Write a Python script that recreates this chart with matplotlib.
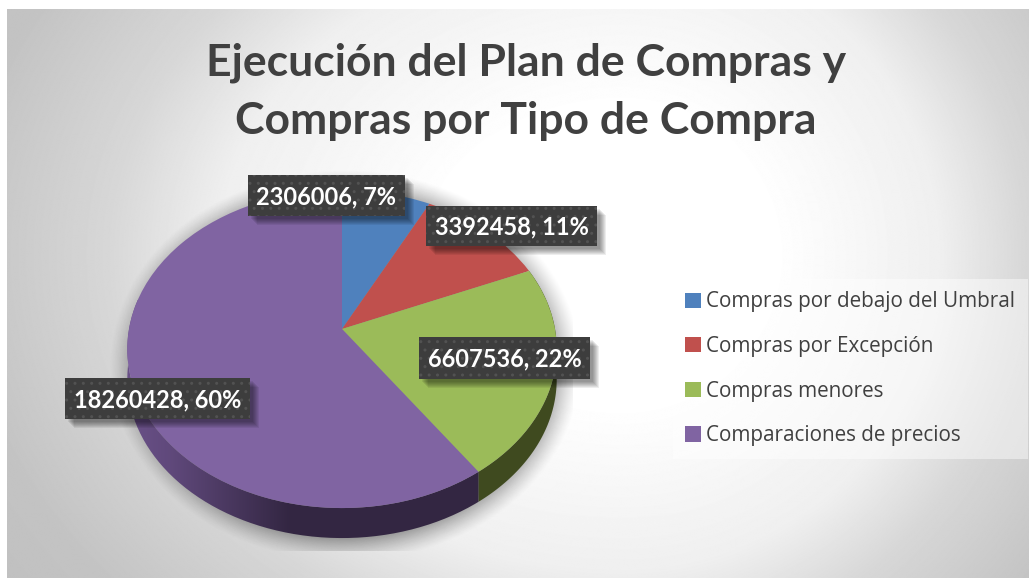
import numpy as np
import matplotlib
matplotlib.use("Agg")
import matplotlib.pyplot as plt
from matplotlib.patches import Rectangle, PathPatch
from matplotlib.path import Path
from matplotlib.transforms import Transform

categories = ["Compras por debajo del Umbral", "Compras por Excepción",
              "Compras menores", "Comparaciones de precios"]
values = [2306006, 3392458, 6607536, 18260428]
percents = [7, 11, 22, 60]
colors = ["#4f81bd", "#c0504d", "#9bbb59", "#8064a2"]
title = "Ejecución del Plan de Compras y\nCompras por Tipo de Compra"

W, H = 1029, 578
CX, CY = 342, 329
DEPTH = 30
K, A, C = 0.126, 213.0, 156.5


class Tilt(Transform):
    # unit circle -> slightly perspective disc, apex stays at CX,CY
    input_dims = output_dims = 2

    def transform_non_affine(self, xy):
        xy = np.asarray(xy)
        d = 1 + K * xy[:, 1]
        return np.column_stack([CX + A * xy[:, 0] / d, CY - C * xy[:, 1] / d])


fig = plt.figure(figsize=(W / 100, H / 100), dpi=100, facecolor="white")
ax = fig.add_axes([0, 0, 1, 1])

wedges, _ = ax.pie(values, colors=colors, startangle=90, counterclock=False, radius=1)
tilt = Tilt()
for w in wedges:
    w.set_transform(tilt + ax.transData)
    w.set_zorder(4)
    w.set_linewidth(0)
ax.set_aspect("auto")
ax.axis("off")

# background gradient
yy, xx = np.mgrid[0:H, 0:W]
rx = np.where(xx < 620, 640, 500)
r = np.hypot((xx - 620) / rx, (yy - 250) / 500)
bg = np.interp(r, [0.3, 0.64, 0.81, 1.05, 1.3], [255, 239, 215, 195, 190])
ax.imshow(bg, cmap="gray", vmin=0, vmax=255, extent=(7, W, H, 9), zorder=0, aspect="auto")

# soft shadow below the pie
s = np.hypot((xx - 345) / 236, (yy - 365) / 196)
sa = np.clip((1.0 - s) / 0.14, 0, 1) ** 1.3 * 0.42
sa[(yy > 550) | (xx > 572)] = 0
shadow = np.zeros((H, W, 4))
shadow[..., 3] = sa
ax.imshow(shadow, extent=(0, W, H, 0), zorder=1, aspect="auto")

# rim of the disc
fractions = np.cumsum(values) / np.sum(values)
a_start = 2 * np.pi * fractions[1]
a_green = 2 * np.pi * fractions[2]


def rim(a0, a1):
    t = np.linspace(a0, a1, 200)
    p = tilt.transform_non_affine(np.column_stack([np.sin(t), np.cos(t)]))
    q = p + [0, DEPTH]
    return np.vstack([p, q[::-1]])


green_rim = rim(a_start, a_green)
ax.fill(green_rim[:, 0], green_rim[:, 1], color="#3f4a1f", zorder=3, lw=0)
purple_rim = rim(a_green, 2 * np.pi)
clip = PathPatch(Path(np.vstack([purple_rim, purple_rim[:1]])), transform=ax.transData)
grad = np.interp(np.linspace(120, 480, 360), [120, 170, 290, 480], [0, 0.2, 1, 1])[None, :, None]
rim_rgb = (1 - grad) * np.array([0.42, 0.32, 0.54]) + grad * np.array([0.2, 0.15, 0.26])
im = ax.imshow(rim_rgb, extent=(120, 480, 560, 300), zorder=3, aspect="auto")
im.set_clip_path(clip)
ax.set_xlim(0, W)
ax.set_ylim(H, 0)

# data labels, boxes
boxes = [(248, 175, 157, 41), (426, 206, 171, 40), (419, 337, 171, 42), (65, 378, 185, 41)]
for (x, y, w, h), v, p in zip(boxes, values, percents):
    for i in range(7, 0, -1):
        ax.add_patch(Rectangle((x + 2 + i, y + 2 + i), w, h, fc="black", alpha=0.07, lw=0, zorder=5))
    ax.add_patch(Rectangle((x, y), w, h, fc="#3d3d3d", ec="#525252", hatch="..", lw=0, zorder=6))
    ax.text(x + w / 2, y + h / 2 + 1, f"{v}, {p}%", color="white", fontsize=17, fontweight="bold",
            family="Lato", ha="center", va="center", zorder=7)

ax.text(526, 92, title, color="#404040", fontsize=32, fontweight="bold", family="Lato",
        ha="center", va="center", linespacing=1.55, zorder=7)

leg = ax.legend(wedges, categories, loc="upper left", bbox_to_anchor=(673 / W, 1 - 279 / H),
                bbox_transform=fig.transFigure, frameon=True, fancybox=False, framealpha=0.45,
                facecolor="white", edgecolor="none", borderaxespad=0, borderpad=0.6,
                handlelength=0.75, handleheight=0.75, handletextpad=0.25, labelspacing=1.14,
                prop={"family": "Open Sans", "size": 14.9}, labelcolor="#404040")
leg.set_zorder(8)

fig.savefig("out.png", dpi=100)
